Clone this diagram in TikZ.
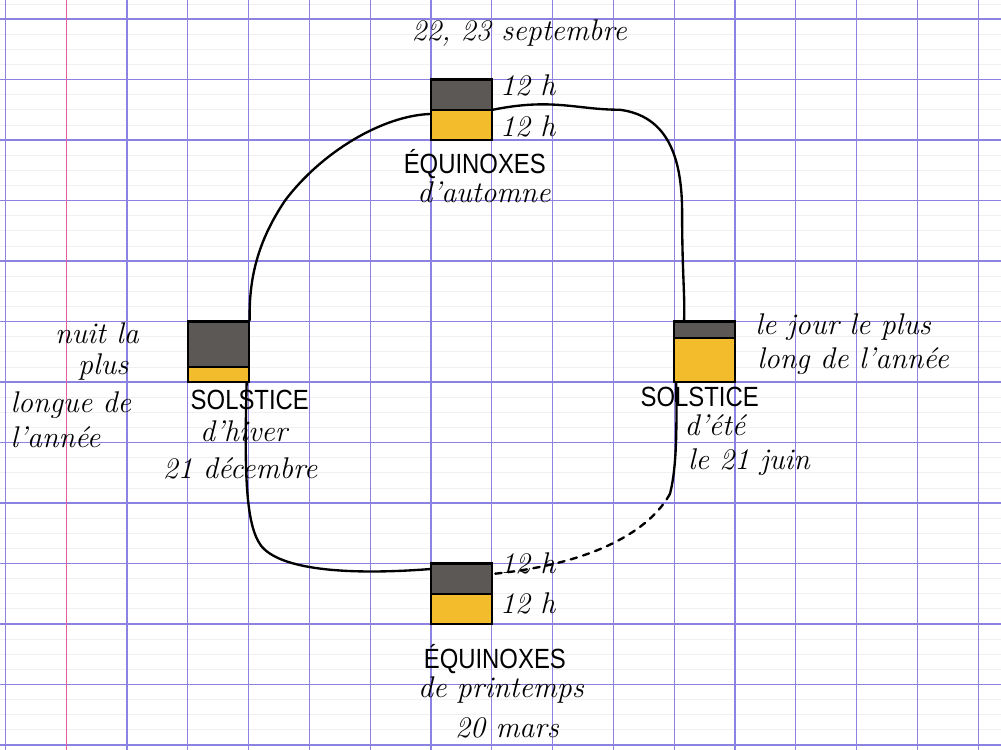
\documentclass[tikz,border=0pt]{standalone}
\usepackage{fontspec}
\newfontfamily\capitales[FakeStretch=0.86]{Liberation Sans}

\definecolor{quadrillage}{RGB}{140,130,225}
\definecolor{marge}{RGB}{230,90,160}
\definecolor{nuit}{RGB}{92,88,86}
\definecolor{jour}{RGB}{242,188,45}

\begin{document}
\begin{tikzpicture}[x=1cm,y=-0.995cm,
  ecrit/.style={font=\fontsize{14}{17}\selectfont\itshape,inner sep=0pt},
  titre/.style={font=\fontsize{13}{15}\selectfont\capitales,inner sep=0pt},
  boite/.style={draw,line width=1pt,minimum width=1cm,minimum height=0.995cm,inner sep=0pt},
  trait/.style={line width=1.1pt,line cap=round}]

\useasboundingbox (-0.089,-0.314) rectangle (16.375,12.083);
\fill[white] (-0.089,-0.314) rectangle (16.375,12.083);

%Quadrillage
\foreach \y in {-0.25,0,...,12}
	\draw[gray!12,line width=0.3pt] (-0.089,\y) -- (16.375,\y);
\foreach \x in {0,2,3,...,16}
	\draw[quadrillage,line width=0.6pt] (\x,-0.314) -- (\x,12.083);
\foreach \y in {0,...,12}
	\draw[quadrillage,line width=0.6pt] (-0.089,\y) -- (16.375,\y);
\draw[marge,line width=0.6pt] (1,-0.314) -- (1,12.083);

%Boites nuit/jour
\foreach \nom/\x/\y/\f in
{
automne/7/1/0.5,
hiver/3/5/0.75,
ete/11/5/0.28,
printemps/7/9/0.5
}
{
	\fill[nuit] (\x,\y) rectangle (\x+1,\y+\f);
	\fill[jour] (\x,\y+\f) rectangle (\x+1,\y+1);
	\draw[line width=1pt] (\x,\y+\f) -- (\x+1,\y+\f);
	\node[boite] (\nom) at (\x+0.5,\y+0.5) {};
}

%Trajet
\coordinate (tiret) at (10.93,7.85);
\draw[trait] (automne.east) .. controls (9,1.3) and (9.4,1.5) .. (10.1,1.5)
	.. controls (10.9,1.6) and (11.13,2.3) .. (11.13,3.2)
	.. controls (11.13,4.2) and (11.18,4.6) .. ([xshift=0.18cm]ete.north west);
\draw[trait] ([xshift=0.05cm]ete.south west) .. controls (11.05,7) and (11.02,7.5) .. (tiret);
\draw[trait,dashed] (tiret) .. controls (10.6,8.45) and (9.7,9.0) .. ([yshift=-0.19cm]printemps.north east);
\draw[trait] ([yshift=-0.11cm]printemps.north west) .. controls (5.6,9.2) and (4.5,9.1) .. (4.2,8.7)
	.. controls (3.95,8.35) and (3.93,7.5) .. ([xshift=-0.05cm]hiver.south east);
\draw[trait] (hiver.north east) .. controls (4,4.2) and (4.2,3.6) .. (4.6,3.0)
	.. controls (5.2,2.2) and (6.2,1.6) .. ([yshift=-0.07cm]automne.west);

%Automne
\node[ecrit,anchor=base] (dateAutomne) at (8.45,0.35) {22, 23 septembre};
\node[ecrit,anchor=base west] (nuitAutomne) at (8.13,1.26) {12 h};
\node[ecrit,anchor=base west] (jourAutomne) at (8.13,1.95) {12 h};
\node[titre,anchor=base] (eqAutomne) at (7.72,2.56) {ÉQUINOXES};
\node[ecrit,anchor=base] (nomAutomne) at (7.87,3.03) {d'automne};

%Hiver
\node[ecrit,anchor=base west] (nuit1) at (0.81,5.36) {nuit la};
\node[ecrit,anchor=base west] (nuit2) at (1.19,5.88) {plus};
\node[ecrit,anchor=base west] (nuit3) at (0.08,6.51) {longue de};
\node[ecrit,anchor=base west] (nuit4) at (0.08,7.09) {l'année};
\node[titre,anchor=base] (solHiver) at (4.02,6.45) {SOLSTICE};
\node[ecrit,anchor=base] (nomHiver) at (3.92,6.99) {d'hiver};
\node[ecrit,anchor=base] (dateHiver) at (3.86,7.59) {21 décembre};

%Ete
\node[ecrit,anchor=base west] (jour1) at (12.33,5.22) {le jour le plus};
\node[ecrit,anchor=base west] (jour2) at (12.36,5.77) {long de l'année};
\node[titre,anchor=base] (solEte) at (11.42,6.41) {SOLSTICE};
\node[ecrit,anchor=base] (nomEte) at (11.67,6.88) {d'été};
\node[ecrit,anchor=base] (dateEte) at (12.23,7.45) {le 21 juin};

%Printemps
\node[ecrit,anchor=base west] (nuitPrintemps) at (8.13,9.16) {12 h};
\node[ecrit,anchor=base west] (jourPrintemps) at (8.13,9.82) {12 h};
\node[titre,anchor=base] (eqPrintemps) at (8.05,10.73) {ÉQUINOXES};
\node[ecrit,anchor=base] (nomPrintemps) at (8.15,11.21) {de printemps};
\node[ecrit,anchor=base] (datePrintemps) at (8.25,11.87) {20 mars};

\end{tikzpicture}
\end{document}
